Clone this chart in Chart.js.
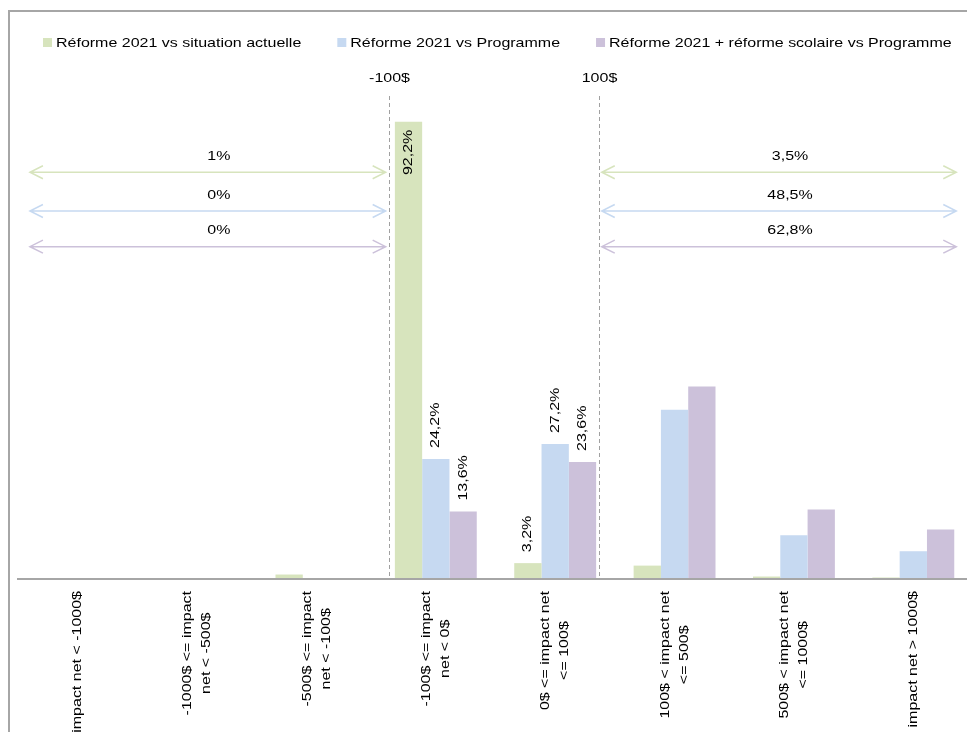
<!DOCTYPE html>
<html lang="fr">
<head>
<meta charset="utf-8">
<title>Impact net de la réforme 2021</title>
<script src="https://cdn.jsdelivr.net/npm/chart.js@4.4.1/dist/chart.umd.min.js"></script>
<style>
  html, body { margin: 0; padding: 0; background: #fff; overflow: hidden; }
  canvas { display: block; }
</style>
</head>
<body>
<canvas id="impactChart" width="981" height="749"></canvas>
<script>
// Tranches d'impact net
const categories = [
    ['impact net < -1000$'],
    ['-1000$ <= impact', 'net < -500$'],
    ['-500$ <= impact', 'net < -100$'],
    ['-100$ <= impact', 'net < 0$'],
    ['0$ <= impact net', '<= 100$'],
    ['100$ < impact net', '<= 500$'],
    ['500$ < impact net', '<= 1000$'],
    ['impact net > 1000$']
];

const seriesNames = [
    'Réforme 2021 vs situation actuelle',
    'Réforme 2021 vs Programme',
    'Réforme 2021 + réforme scolaire vs Programme'
];

// Part des ménages dans chaque tranche (%)
const actuelleValues  = [0.05, 0.05, 0.9, 92.2, 3.2, 2.7, 0.5, 0.3];
const programmeValues = [0, 0, 0, 24.2, 27.2, 34.1, 8.8, 5.6];
const scolaireValues  = [0, 0, 0.03, 13.6, 23.6, 38.8, 14.0, 10.0];

// Seuils -100$ / 100$ (position sur l'axe des tranches)
const thresholdLabels = ['-100$', '100$'];
const thresholdPositions = [2.61, 4.37];

// Tranches regroupées sous les flèches (perdants / gagnants)
const losersGroup = [0, 1, 2];
const winnersGroup = [5, 6, 7];

// Tranches dont les barres portent leur valeur
const labelledCategories = [3, 4];

const colors = ['#d7e4bd', '#c6d9f1', '#ccc1da'];

// Mise en page des flèches : hauteur de chaque ligne (unités de l'axe y) et étendue en x
const arrowLevels = [82.0, 74.2, 67.0];
const loserSpan = [-0.4, 2.58];
const winnerSpan = [4.39, 7.36];

const FONT = '13px "Liberation Sans", Arial, sans-serif';
const STRETCH = 1.23;

function drawText(ctx, text, x, y, align, angle) {
    ctx.save();
    ctx.translate(x, y);
    if (angle) ctx.rotate(angle);
    ctx.scale(STRETCH, 1);
    ctx.font = FONT;
    ctx.fillStyle = '#000';
    ctx.textAlign = align;
    ctx.textBaseline = 'middle';
    ctx.fillText(text, 0, 0);
    ctx.restore();
}

function textWidth(ctx, text) {
    ctx.font = FONT;
    return ctx.measureText(text).width * STRETCH;
}

function fmtShare(v) {
    const r = Math.round(v * 10) / 10;
    return (Number.isInteger(r) ? r.toFixed(0) : r.toFixed(1)).replace('.', ',') + '%';
}

function drawArrow(ctx, x0, x1, y, color) {
    ctx.strokeStyle = color;
    ctx.lineWidth = 1.5;
    ctx.setLineDash([]);
    ctx.beginPath();
    ctx.moveTo(x0, y);
    ctx.lineTo(x1, y);
    ctx.moveTo(x0 + 13, y - 6.5);
    ctx.lineTo(x0, y);
    ctx.lineTo(x0 + 13, y + 6.5);
    ctx.moveTo(x1 - 13, y - 6.5);
    ctx.lineTo(x1, y);
    ctx.lineTo(x1 - 13, y + 6.5);
    ctx.stroke();
}

const annotations = {
    id: 'annotations',
    beforeDatasetsDraw(chart) {
        const {ctx, chartArea, scales: {x, y}} = chart;
        ctx.save();

        // cadre du graphique
        ctx.strokeStyle = '#a6a6a6';
        ctx.lineWidth = 2;
        ctx.beginPath();
        ctx.moveTo(9, chart.height);
        ctx.lineTo(9, 11);
        ctx.lineTo(chart.width, 11);
        ctx.stroke();

        // légende
        let lx = 43;
        chart.data.datasets.forEach(ds => {
            ctx.fillStyle = ds.backgroundColor;
            ctx.fillRect(lx, 38, 9, 9);
            drawText(ctx, ds.label, lx + 13, 43, 'left', 0);
            lx += 13 + textWidth(ctx, ds.label) + 36;
        });

        // seuils en pointillés
        ctx.strokeStyle = '#a0a0a0';
        ctx.lineWidth = 1;
        ctx.setLineDash([4, 3]);
        thresholdPositions.forEach((pos, i) => {
            const px = Math.round(x.getPixelForValue(pos)) + 0.5;
            ctx.beginPath();
            ctx.moveTo(px, chartArea.top + 13);
            ctx.lineTo(px, chartArea.bottom);
            ctx.stroke();
            drawText(ctx, thresholdLabels[i], px, chartArea.top - 5, 'center', 0);
        });

        // flèches avec la part cumulée de chaque série
        arrowLevels.forEach((level, s) => {
            const py = y.getPixelForValue(level);
            const data = chart.data.datasets[s].data;
            [[loserSpan, losersGroup], [winnerSpan, winnersGroup]].forEach(([span, group]) => {
                const x0 = x.getPixelForValue(span[0]);
                const x1 = x.getPixelForValue(span[1]);
                drawArrow(ctx, x0, x1, py, colors[s]);
                const share = group.reduce((sum, i) => sum + data[i], 0);
                drawText(ctx, fmtShare(share), (x0 + x1) / 2 + 11, py - 16, 'center', 0);
            });
        });
        ctx.restore();
    },
    afterDatasetsDraw(chart) {
        const {ctx, chartArea, scales: {x}} = chart;

        // valeurs sur les barres
        chart.data.datasets.forEach((ds, s) => {
            const meta = chart.getDatasetMeta(s);
            labelledCategories.forEach(i => {
                const bar = meta.data[i];
                const text = ds.data[i].toFixed(1).replace('.', ',') + '%';
                if (ds.data[i] > 60) {
                    drawText(ctx, text, bar.x, bar.y + 8, 'right', -Math.PI / 2);
                } else {
                    drawText(ctx, text, bar.x, bar.y - 11, 'left', -Math.PI / 2);
                }
            });
        });

        // libellés des tranches, verticaux et centrés
        chart.data.labels.forEach((lines, i) => {
            const px = x.getPixelForValue(i);
            const widest = Math.max(...lines.map(l => textWidth(ctx, l)));
            const cy = chartArea.bottom + 12 + widest / 2;
            lines.forEach((line, k) => {
                drawText(ctx, line, px + (k - (lines.length - 1) / 2) * 19, cy, 'center', -Math.PI / 2);
            });
        });
    }
};

new Chart(document.getElementById('impactChart'), {
    type: 'bar',
    data: {
        labels: categories,
        datasets: [
            { label: seriesNames[0], data: actuelleValues, backgroundColor: colors[0] },
            { label: seriesNames[1], data: programmeValues, backgroundColor: colors[1] },
            { label: seriesNames[2], data: scolaireValues, backgroundColor: colors[2] }
        ]
    },
    options: {
        responsive: false,
        animation: false,
        devicePixelRatio: 1,
        layout: { padding: { top: 83, left: 18, right: 8, bottom: 0 } },
        datasets: { bar: { categoryPercentage: 0.686, barPercentage: 1 } },
        plugins: {
            legend: { display: false },
            tooltip: { enabled: false }
        },
        scales: {
            x: {
                grid: { display: false },
                ticks: { display: false },
                border: { color: '#a6a6a6', width: 2, z: 1 },
                afterFit(scale) { scale.height = 170; }
            },
            y: { display: false, min: 0, max: 100 }
        }
    },
    plugins: [annotations]
});
</script>
</body>
</html>
